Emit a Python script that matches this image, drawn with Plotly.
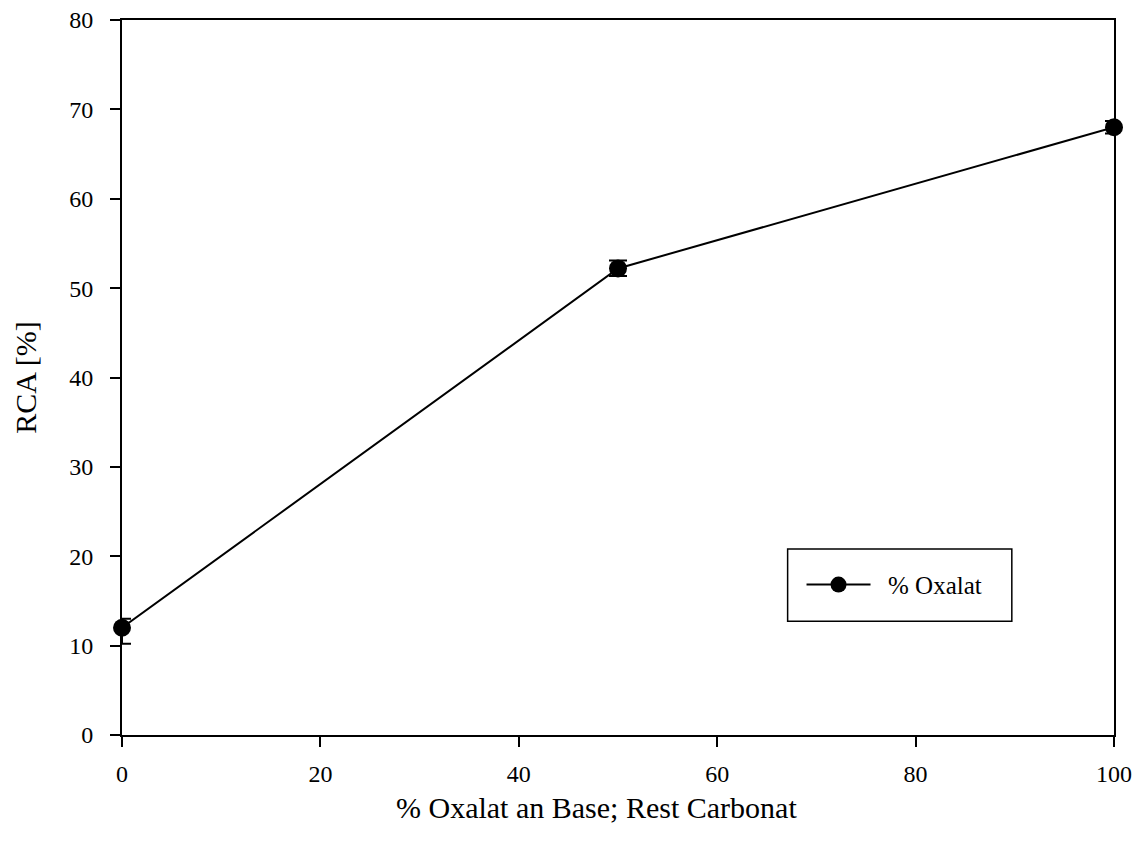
import plotly.graph_objects as go

# Oxalate share in the base (rest carbonate) vs. RCA
oxalat_pct = [0, 50, 100]
rca_pct = [12.0, 52.2, 68.0]
err_plus = [1.0, 0.9, 0.7]
err_minus = [1.8, 0.85, 0.7]

x_ticks = [0, 20, 40, 60, 80, 100]
y_ticks = [0, 10, 20, 30, 40, 50, 60, 70, 80]

FONT = "Liberation Serif"

fig = go.Figure()
fig.add_trace(go.Scatter(
    x=oxalat_pct, y=rca_pct,
    mode="lines+markers",
    name="\u00a0\u00a0% Oxalat",
    line=dict(color="black", width=2),
    marker=dict(color="black", size=18),
    error_y=dict(type="data", symmetric=False, array=err_plus, arrayminus=err_minus,
                 color="black", thickness=2, width=9),
    cliponaxis=False,
))

axis_common = dict(
    showline=True, linecolor="black", linewidth=2, mirror=True,
    ticks="outside", ticklen=10, tickwidth=2, tickcolor="black",
    showgrid=False, zeroline=False, automargin=False,
    ticklabeloverflow="allow",
    tickfont=dict(family=FONT, size=24, color="black"),
)

# legend frame
fig.add_shape(type="rect", xref="paper", yref="paper",
              x0=0.671, x1=0.897, y0=0.159, y1=0.260,
              line=dict(color="black", width=1.5), fillcolor="white", layer="below")

# x-axis title, set slightly left of the plot centre
fig.add_annotation(text="% Oxalat an Base; Rest Carbonat", xref="paper", yref="paper",
                   x=0.478, y=-0.102, xanchor="center", yanchor="middle",
                   showarrow=False, font=dict(family=FONT, size=30, color="black"))

fig.update_layout(
    width=1133, height=850,
    margin=dict(l=122, r=19, t=20, b=115),
    paper_bgcolor="white", plot_bgcolor="white",
    font=dict(family=FONT, color="black"),
    xaxis=dict(range=[0, 100], tickvals=x_ticks, ticklabelstandoff=6,
               **axis_common),
    yaxis=dict(range=[0, 80], tickvals=y_ticks, ticklabelstandoff=12,
               title=dict(text="RCA [%]", font=dict(family=FONT, size=30), standoff=24),
               **axis_common),
    showlegend=True,
    legend=dict(x=0.685, y=0.21, xanchor="left", yanchor="middle",
                bgcolor="rgba(0,0,0,0)", borderwidth=0,
                font=dict(family=FONT, size=25, color="black"),
                itemwidth=64, tracegroupgap=0),
)

fig.write_html("out.html")
